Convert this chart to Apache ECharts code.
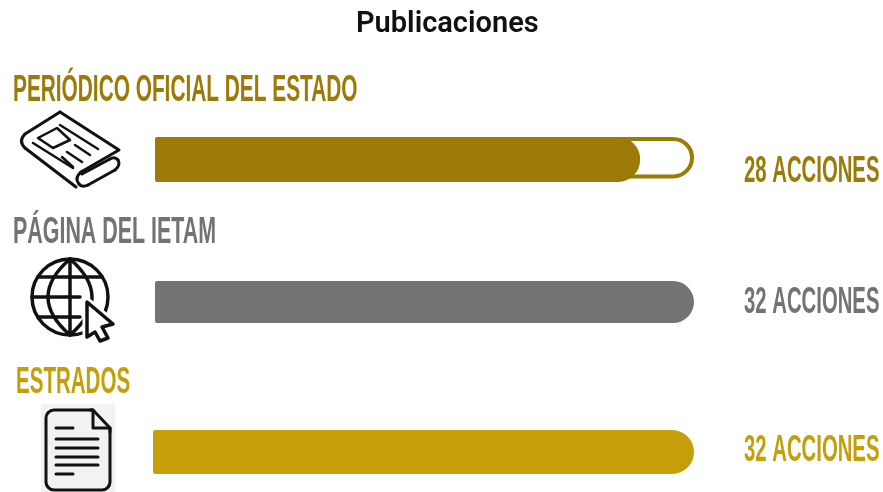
<!DOCTYPE html>
<html><head><meta charset="utf-8">
<style>html,body{margin:0;padding:0;background:#fff}#c{width:883px;height:492px}</style>
<script src="https://cdn.jsdelivr.net/npm/echarts@6/dist/echarts.min.js"></script>
</head><body><div id="c"></div>
<script>
const titleText = 'Publicaciones';
const categories = ['PERIÓDICO OFICIAL DEL ESTADO', 'PÁGINA DEL IETAM', 'ESTRADOS'];
const acciones = [28, 32, 32];
const filledLength = [28.8, 32, 32];
const axisMax = [32, 32, 32];
const colors = ['#9c7a07', '#737373', '#c49f0a'];
const unit = ' ACCIONES';

const grids = [
  {left:155, top:137, width:539, height:45},
  {left:155, top:281, width:539, height:42},
  {left:153, top:430, width:541, height:44}
];
const catLayout = [{x:13,y:91,sx:0.563},{x:13,y:233,sx:0.579},{x:16,y:383,sx:0.555}];
const valY = [172,303,451];
const valScale = 0.549;
const FONT = '"Liberation Sans Narrow","Liberation Sans",sans-serif';

function label(text,x,y,color,sx){
  return {type:'text',x:x,y:y,scaleX:sx,scaleY:1,z:10,
    style:{text:text,fill:color,font:'bold 37px '+FONT,textAlign:'left',textVerticalAlign:'middle'}};
}
const INK='#111';
function pl(points,w,z){
  return {type:'polyline',z:z||10,shape:{points:points},
    style:{fill:'none',stroke:INK,lineWidth:w||3,lineJoin:'round',lineCap:'round'}};
}
function curve(x1,y1,cx,cy,x2,y2,w){
  return {type:'bezierCurve',z:10,shape:{x1:x1,y1:y1,x2:x2,y2:y2,cpx1:cx,cpy1:cy},
    style:{fill:'none',stroke:INK,lineWidth:w||3,lineCap:'round'}};
}
const newspaper = [
  pl([[60,112],[25,134]]), curve(25,134,18,141,25,148), pl([[25,148],[76,187]]),
  pl([[60,112],[119,150],[81,172]]),
  curve(81,172,74,178,79,184), curve(79,184,82,188,88,185),
  pl([[88,185],[115,170]]), curve(115,170,121,165,118,160), curve(118,160,115,156,110,159),
  pl([[110,159],[82,174]]),
  pl([[33,143],[73,168]],2.5),
  pl([[38,138],[57,128],[70,140],[53,148],[38,138]],2.5),
  pl([[60,125],[98,149]],2.5),
  pl([[75,145],[90,155]],2.5),
  pl([[67,152],[82,162]],2.5),
  pl([[62,157],[73,167]],2.5)
];
const globe = [
  {type:'circle',z:10,shape:{cx:70,cy:297,r:38},style:{fill:'none',stroke:INK,lineWidth:3.5}},
  curve(70,259,26,297,70,335,3.5), curve(70,259,114,297,70,335,3.5),
  pl([[70,259],[70,335]],3.5),
  pl([[32,297],[80,297]],3.5),
  pl([[38,277],[102,277]],3.5),
  pl([[38,317],[80,317]],3.5),
  {type:'polygon',z:11,shape:{points:[[87,302],[113,324],[102,327],[108,338],[100,341],[95,332],[87,337]]},
    style:{fill:'#fff',stroke:'#fff',lineWidth:9,lineJoin:'round'}},
  {type:'polygon',z:12,shape:{points:[[87,302],[113,324],[102,327],[108,338],[100,341],[95,332],[87,337]]},
    style:{fill:'#fff',stroke:INK,lineWidth:3.5,lineJoin:'round'}}
];
const documentIcon = [
  {type:'rect',z:9,shape:{x:41,y:404,width:74,height:88},style:{fill:'#f2f2f2'}},
  {type:'rect',z:10,shape:{x:46,y:410,width:64,height:80,r:8},style:{fill:'none',stroke:INK,lineWidth:3}},
  {type:'polygon',z:11,shape:{points:[[93,408],[112,408],[112,428],[93,428]]},style:{fill:'#f2f2f2'}},
  pl([[90,410],[93,410],[110,428],[110,432]],3,12),
  pl([[93,410],[93,428],[110,428]],3,12),
  pl([[56,428],[73,428]]), pl([[56,439],[98,439]]), pl([[56,448],[98,448]]),
  pl([[56,457],[98,457]]), pl([[56,465],[98,465]]), pl([[56,474],[73,474]])
];

function build(){
  const s=[], xa=[], ya=[];
  grids.forEach((g,i)=>{
    xa.push({gridIndex:i,type:'value',min:0,max:axisMax[i],show:false});
    ya.push({gridIndex:i,type:'category',data:[categories[i]],show:false});
    if(filledLength[i]<axisMax[i]){
      s.push({type:'bar',xAxisIndex:i,yAxisIndex:i,data:[axisMax[i]],barWidth:'92%',barGap:'-100%',silent:true,z:1,
        itemStyle:{color:'#fff',borderColor:colors[i],borderWidth:4,borderRadius:[2,22,22,2]}});
    }
    s.push({type:'bar',xAxisIndex:i,yAxisIndex:i,data:[filledLength[i]],barWidth:'100%',barGap:'-100%',silent:true,z:2,
      itemStyle:{color:colors[i],borderRadius:[2,22,22,2]}});
  });
  const texts=[];
  categories.forEach((c,i)=>{
    texts.push(label(c,catLayout[i].x,catLayout[i].y,colors[i],catLayout[i].sx));
    texts.push(label(acciones[i]+unit,744,valY[i],colors[i],valScale));
  });
  return {
    animation:false,backgroundColor:'#fff',
    title:{text:titleText,left:351,top:5,
      textStyle:{color:'#111',fontSize:29,fontWeight:600,fontFamily:'Roboto'}},
    grid:grids.map(g=>Object.assign({containLabel:false},g)),
    xAxis:xa,yAxis:ya,series:s,
    graphic:{elements:[].concat(texts,newspaper,globe,documentIcon)}
  };
}
const chart=echarts.init(document.getElementById('c'),null,{renderer:'canvas'});
chart.setOption(build());
</script></body></html>
